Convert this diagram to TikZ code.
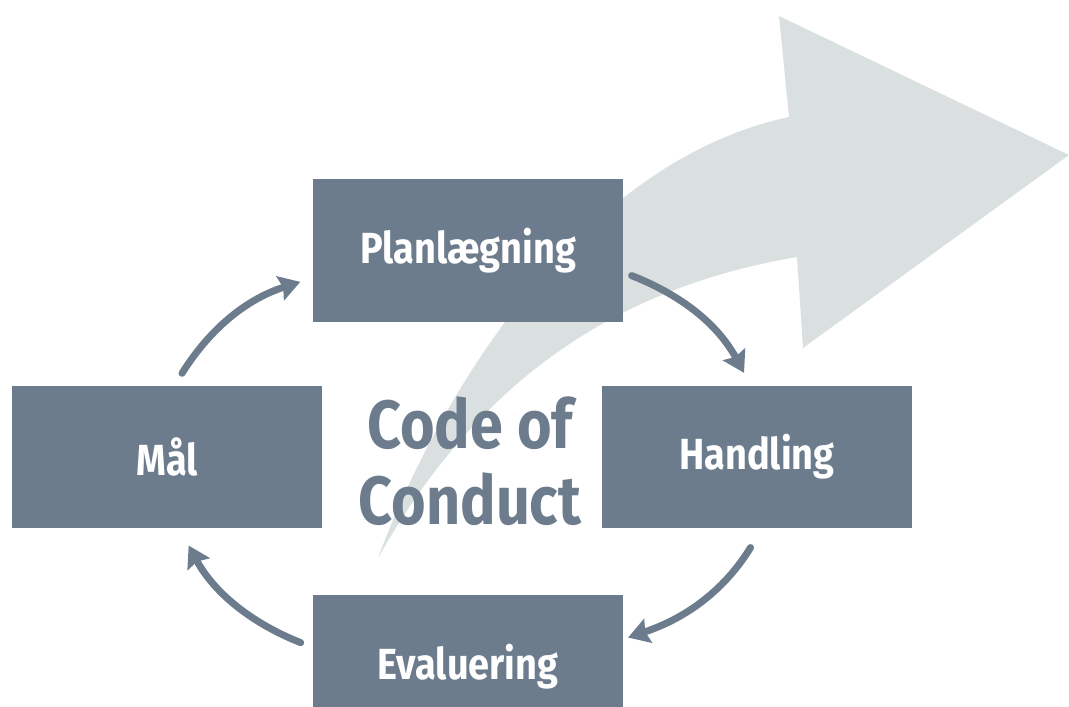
\documentclass[tikz,border=0pt]{standalone}
\usepackage{fontspec}
\setmainfont{Fira Sans}[FakeStretch=0.87]
\usetikzlibrary{arrows.meta}
\definecolor{slate}{RGB}{108,124,141}
\definecolor{mist}{RGB}{218,224,224}
\def\bigarrow{(378,149) .. controls (440,315) and (580,545) .. (789,590) -- (779,691) -- (1069,552) -- (803,359) -- (797,450) .. controls (620,420) and (480,330) .. cycle}
\def\cyc{\draw[cyc]}

\begin{document}
\begin{tikzpicture}[x=0.02cm,y=0.02cm,
    stage/.style={fill=slate,text=white,minimum width=6.2cm,minimum height=2.86cm,
        font=\fontsize{24.8}{28}\selectfont\bfseries},
    cyc/.style={draw=slate,line width=4pt,line cap=round,bend left=20,
        -{Stealth[length=0.42cm,width=0.5cm,inset=0.06cm]}}]
                \useasboundingbox (0,0) rectangle (1069,707);
                \clip (0,0) rectangle (1069,707);
                \fill[mist] \bigarrow;
                \node[stage] (plan) at (468,456.5) {Planlægning};
                \node[stage] (maal) at (167,250) {Mål};
                \node[stage] (hand) at (757,250) {Handling};
                \node[stage] (eval) at (468,40.5) {Evaluering};
                \node[text=slate,align=center,font=\fontsize{38.8}{43.2}\selectfont\bfseries]
                    (coc) at (470,245.5) {Code of\\Conduct};
                \cyc[shorten <=0.28cm,shorten >=0.26cm] (maal.84) to (plan.190);
                \cyc[shorten <=0.18cm,shorten >=0.28cm] (plan.-8) to (hand.95);
                \cyc[shorten <=0.44cm,shorten >=0.1cm] (hand.-86) to (eval.10);
                \cyc[shorten <=0.26cm,shorten >=0.38cm] (eval.173) to (maal.-80);
            \end{tikzpicture}
\end{document}
